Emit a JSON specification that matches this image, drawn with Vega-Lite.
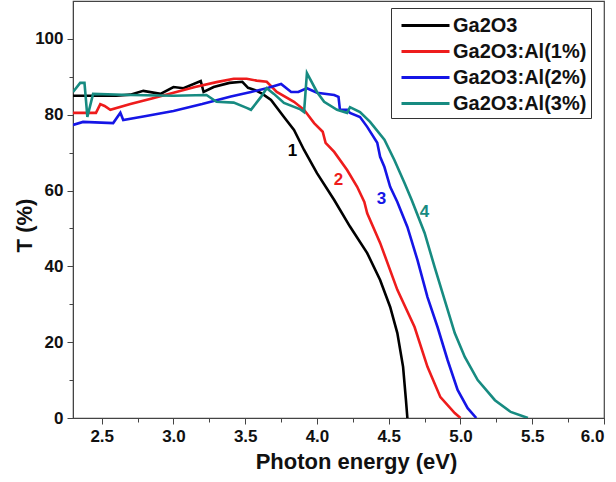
{
  "$schema": "https://vega.github.io/schema/vega-lite/v6.json",
  "width": 531,
  "height": 417,
  "autosize": {"type": "none"},
  "padding": {"left": 73, "top": 1, "right": 12, "bottom": 64},
  "background": "white",
  "config": {
    "view": {"stroke": "#444444", "strokeWidth": 1.2},
    "font": "Liberation Sans",
    "legend": {"strokeWidth": 1},
    "axis": {"grid": false, "domainColor": "#444444", "tickColor": "#444444", "labelFont": "Liberation Sans", "titleFont": "Liberation Sans"}
  },
  "datasets": {
    "curves": [
      {"s": "Ga2O3", "e": 2.30, "t": 85},
      {"s": "Ga2O3", "e": 2.60, "t": 85},
      {"s": "Ga2O3", "e": 2.70, "t": 85.3},
      {"s": "Ga2O3", "e": 2.79, "t": 86.3},
      {"s": "Ga2O3", "e": 2.91, "t": 85.5},
      {"s": "Ga2O3", "e": 3.00, "t": 87.3},
      {"s": "Ga2O3", "e": 3.07, "t": 87},
      {"s": "Ga2O3", "e": 3.19, "t": 88.9},
      {"s": "Ga2O3", "e": 3.21, "t": 86},
      {"s": "Ga2O3", "e": 3.28, "t": 87.3},
      {"s": "Ga2O3", "e": 3.39, "t": 88.4},
      {"s": "Ga2O3", "e": 3.48, "t": 88.7},
      {"s": "Ga2O3", "e": 3.52, "t": 87.1},
      {"s": "Ga2O3", "e": 3.57, "t": 86.5},
      {"s": "Ga2O3", "e": 3.62, "t": 85.5},
      {"s": "Ga2O3", "e": 3.68, "t": 83.9},
      {"s": "Ga2O3", "e": 3.77, "t": 79.4},
      {"s": "Ga2O3", "e": 3.84, "t": 76},
      {"s": "Ga2O3", "e": 3.91, "t": 70.7},
      {"s": "Ga2O3", "e": 4.00, "t": 64.6},
      {"s": "Ga2O3", "e": 4.12, "t": 57.5},
      {"s": "Ga2O3", "e": 4.23, "t": 50.5},
      {"s": "Ga2O3", "e": 4.35, "t": 43.5},
      {"s": "Ga2O3", "e": 4.44, "t": 36.4},
      {"s": "Ga2O3", "e": 4.51, "t": 29.3},
      {"s": "Ga2O3", "e": 4.56, "t": 22.4},
      {"s": "Ga2O3", "e": 4.60, "t": 13.5},
      {"s": "Ga2O3", "e": 4.62, "t": 4.7},
      {"s": "Ga2O3", "e": 4.63, "t": 0},
      {"s": "Ga2O3:Al(1%)", "e": 2.30, "t": 80.5},
      {"s": "Ga2O3:Al(1%)", "e": 2.46, "t": 80.5},
      {"s": "Ga2O3:Al(1%)", "e": 2.49, "t": 82.8},
      {"s": "Ga2O3:Al(1%)", "e": 2.52, "t": 82.3},
      {"s": "Ga2O3:Al(1%)", "e": 2.56, "t": 81.3},
      {"s": "Ga2O3:Al(1%)", "e": 2.70, "t": 82.8},
      {"s": "Ga2O3:Al(1%)", "e": 2.85, "t": 84.3},
      {"s": "Ga2O3:Al(1%)", "e": 3.00, "t": 85.8},
      {"s": "Ga2O3:Al(1%)", "e": 3.15, "t": 87.3},
      {"s": "Ga2O3:Al(1%)", "e": 3.30, "t": 88.6},
      {"s": "Ga2O3:Al(1%)", "e": 3.42, "t": 89.5},
      {"s": "Ga2O3:Al(1%)", "e": 3.51, "t": 89.5},
      {"s": "Ga2O3:Al(1%)", "e": 3.58, "t": 89},
      {"s": "Ga2O3:Al(1%)", "e": 3.65, "t": 88.7},
      {"s": "Ga2O3:Al(1%)", "e": 3.72, "t": 86},
      {"s": "Ga2O3:Al(1%)", "e": 3.84, "t": 83.4},
      {"s": "Ga2O3:Al(1%)", "e": 3.91, "t": 81.3},
      {"s": "Ga2O3:Al(1%)", "e": 3.98, "t": 77.8},
      {"s": "Ga2O3:Al(1%)", "e": 4.04, "t": 75.5},
      {"s": "Ga2O3:Al(1%)", "e": 4.06, "t": 72.6},
      {"s": "Ga2O3:Al(1%)", "e": 4.12, "t": 70.2},
      {"s": "Ga2O3:Al(1%)", "e": 4.21, "t": 65.4},
      {"s": "Ga2O3:Al(1%)", "e": 4.28, "t": 61},
      {"s": "Ga2O3:Al(1%)", "e": 4.33, "t": 57},
      {"s": "Ga2O3:Al(1%)", "e": 4.35, "t": 54},
      {"s": "Ga2O3:Al(1%)", "e": 4.44, "t": 46.2},
      {"s": "Ga2O3:Al(1%)", "e": 4.56, "t": 33.8},
      {"s": "Ga2O3:Al(1%)", "e": 4.68, "t": 24},
      {"s": "Ga2O3:Al(1%)", "e": 4.77, "t": 13.5},
      {"s": "Ga2O3:Al(1%)", "e": 4.86, "t": 5.5},
      {"s": "Ga2O3:Al(1%)", "e": 4.96, "t": 1.3},
      {"s": "Ga2O3:Al(1%)", "e": 5.00, "t": 0},
      {"s": "Ga2O3:Al(2%)", "e": 2.30, "t": 77.3},
      {"s": "Ga2O3:Al(2%)", "e": 2.37, "t": 78.1},
      {"s": "Ga2O3:Al(2%)", "e": 2.58, "t": 77.8},
      {"s": "Ga2O3:Al(2%)", "e": 2.63, "t": 80.5},
      {"s": "Ga2O3:Al(2%)", "e": 2.65, "t": 78.6},
      {"s": "Ga2O3:Al(2%)", "e": 2.80, "t": 79.6},
      {"s": "Ga2O3:Al(2%)", "e": 3.00, "t": 81},
      {"s": "Ga2O3:Al(2%)", "e": 3.20, "t": 82.8},
      {"s": "Ga2O3:Al(2%)", "e": 3.40, "t": 84.8},
      {"s": "Ga2O3:Al(2%)", "e": 3.54, "t": 86},
      {"s": "Ga2O3:Al(2%)", "e": 3.65, "t": 87},
      {"s": "Ga2O3:Al(2%)", "e": 3.75, "t": 88.1},
      {"s": "Ga2O3:Al(2%)", "e": 3.82, "t": 86},
      {"s": "Ga2O3:Al(2%)", "e": 3.87, "t": 86},
      {"s": "Ga2O3:Al(2%)", "e": 3.93, "t": 87},
      {"s": "Ga2O3:Al(2%)", "e": 4.00, "t": 85.8},
      {"s": "Ga2O3:Al(2%)", "e": 4.12, "t": 85.2},
      {"s": "Ga2O3:Al(2%)", "e": 4.15, "t": 84.7},
      {"s": "Ga2O3:Al(2%)", "e": 4.16, "t": 81.3},
      {"s": "Ga2O3:Al(2%)", "e": 4.21, "t": 81.3},
      {"s": "Ga2O3:Al(2%)", "e": 4.23, "t": 80.5},
      {"s": "Ga2O3:Al(2%)", "e": 4.30, "t": 79.4},
      {"s": "Ga2O3:Al(2%)", "e": 4.35, "t": 76.8},
      {"s": "Ga2O3:Al(2%)", "e": 4.42, "t": 72.6},
      {"s": "Ga2O3:Al(2%)", "e": 4.44, "t": 68.9},
      {"s": "Ga2O3:Al(2%)", "e": 4.47, "t": 66.2},
      {"s": "Ga2O3:Al(2%)", "e": 4.51, "t": 61},
      {"s": "Ga2O3:Al(2%)", "e": 4.56, "t": 57},
      {"s": "Ga2O3:Al(2%)", "e": 4.63, "t": 50.4},
      {"s": "Ga2O3:Al(2%)", "e": 4.70, "t": 41.7},
      {"s": "Ga2O3:Al(2%)", "e": 4.77, "t": 31.9},
      {"s": "Ga2O3:Al(2%)", "e": 4.84, "t": 24},
      {"s": "Ga2O3:Al(2%)", "e": 4.91, "t": 15.3},
      {"s": "Ga2O3:Al(2%)", "e": 4.98, "t": 7.4},
      {"s": "Ga2O3:Al(2%)", "e": 5.05, "t": 2.6},
      {"s": "Ga2O3:Al(2%)", "e": 5.11, "t": 0},
      {"s": "Ga2O3:Al(3%)", "e": 2.30, "t": 86},
      {"s": "Ga2O3:Al(3%)", "e": 2.35, "t": 88.4},
      {"s": "Ga2O3:Al(3%)", "e": 2.38, "t": 88.4},
      {"s": "Ga2O3:Al(3%)", "e": 2.39, "t": 84},
      {"s": "Ga2O3:Al(3%)", "e": 2.40, "t": 79.4},
      {"s": "Ga2O3:Al(3%)", "e": 2.44, "t": 85.5},
      {"s": "Ga2O3:Al(3%)", "e": 2.70, "t": 85.2},
      {"s": "Ga2O3:Al(3%)", "e": 3.00, "t": 85},
      {"s": "Ga2O3:Al(3%)", "e": 3.23, "t": 85.2},
      {"s": "Ga2O3:Al(3%)", "e": 3.30, "t": 83.4},
      {"s": "Ga2O3:Al(3%)", "e": 3.42, "t": 83.2},
      {"s": "Ga2O3:Al(3%)", "e": 3.51, "t": 81.8},
      {"s": "Ga2O3:Al(3%)", "e": 3.54, "t": 81.3},
      {"s": "Ga2O3:Al(3%)", "e": 3.61, "t": 84.7},
      {"s": "Ga2O3:Al(3%)", "e": 3.65, "t": 87},
      {"s": "Ga2O3:Al(3%)", "e": 3.70, "t": 85.5},
      {"s": "Ga2O3:Al(3%)", "e": 3.77, "t": 83.1},
      {"s": "Ga2O3:Al(3%)", "e": 3.88, "t": 81.5},
      {"s": "Ga2O3:Al(3%)", "e": 3.91, "t": 80.7},
      {"s": "Ga2O3:Al(3%)", "e": 3.93, "t": 91},
      {"s": "Ga2O3:Al(3%)", "e": 4.00, "t": 86},
      {"s": "Ga2O3:Al(3%)", "e": 4.05, "t": 83.4},
      {"s": "Ga2O3:Al(3%)", "e": 4.14, "t": 81.3},
      {"s": "Ga2O3:Al(3%)", "e": 4.21, "t": 80.5},
      {"s": "Ga2O3:Al(3%)", "e": 4.23, "t": 82},
      {"s": "Ga2O3:Al(3%)", "e": 4.30, "t": 80.7},
      {"s": "Ga2O3:Al(3%)", "e": 4.37, "t": 78.1},
      {"s": "Ga2O3:Al(3%)", "e": 4.47, "t": 73.4},
      {"s": "Ga2O3:Al(3%)", "e": 4.54, "t": 68},
      {"s": "Ga2O3:Al(3%)", "e": 4.61, "t": 62},
      {"s": "Ga2O3:Al(3%)", "e": 4.66, "t": 57.5},
      {"s": "Ga2O3:Al(3%)", "e": 4.75, "t": 48.8},
      {"s": "Ga2O3:Al(3%)", "e": 4.82, "t": 39.8},
      {"s": "Ga2O3:Al(3%)", "e": 4.89, "t": 31.1},
      {"s": "Ga2O3:Al(3%)", "e": 4.96, "t": 22.4},
      {"s": "Ga2O3:Al(3%)", "e": 5.03, "t": 16.1},
      {"s": "Ga2O3:Al(3%)", "e": 5.12, "t": 10},
      {"s": "Ga2O3:Al(3%)", "e": 5.24, "t": 4.7},
      {"s": "Ga2O3:Al(3%)", "e": 5.35, "t": 1.6},
      {"s": "Ga2O3:Al(3%)", "e": 5.47, "t": 0}
    ],
    "labels": [
      {"s": "Ga2O3", "n": "1", "e": 3.83, "t": 70.5},
      {"s": "Ga2O3:Al(1%)", "n": "2", "e": 4.15, "t": 62.8},
      {"s": "Ga2O3:Al(2%)", "n": "3", "e": 4.45, "t": 57.8},
      {"s": "Ga2O3:Al(3%)", "n": "4", "e": 4.75, "t": 54.4}
    ]
  },
  "layer": [
    {
      "data": {"name": "curves"},
      "mark": {"type": "line", "strokeWidth": 2.6, "clip": true},
      "encoding": {
        "x": {
          "field": "e", "type": "quantitative",
          "scale": {"domain": [2.3, 6.0], "nice": false, "zero": false},
          "axis": {
            "orient": "bottom",
            "title": "Photon energy (eV)",
            "values": [2.5, 3.0, 3.5, 4.0, 4.5, 5.0, 5.5, 6.0],
            "format": ".1f",
            "labelFontSize": 17, "labelFontWeight": "bold", "labelColor": "#111111",
            "labelPadding": 4, "tickSize": 6,
            "titleFontSize": 22, "titleFontWeight": "bold", "titleColor": "#111111",
            "titleX": 283, "titleY": 33, "titleBaseline": "top", "titleAnchor": "middle"
          }
        },
        "y": {
          "field": "t", "type": "quantitative",
          "scale": {"domain": [0, 110], "nice": false},
          "axis": {
            "orient": "left",
            "title": "T (%)",
            "values": [0, 20, 40, 60, 80, 100],
            "labelFontSize": 17, "labelFontWeight": "bold", "labelColor": "#111111",
            "labelPadding": 4, "tickSize": 6,
            "titleFontSize": 22, "titleFontWeight": "bold", "titleColor": "#111111",
            "titleX": -49, "titleY": 224, "titleBaseline": "middle", "titleAngle": -90
          }
        },
        "color": {
          "field": "s", "type": "nominal",
          "scale": {
            "domain": ["Ga2O3", "Ga2O3:Al(1%)", "Ga2O3:Al(2%)", "Ga2O3:Al(3%)"],
            "range": ["#000000", "#ee1c1c", "#1515e6", "#178b81"]
          },
          "legend": {
            "title": null,
            "orient": "none",
            "legendX": 318,
            "legendY": 7,
            "symbolType": "M-2,0H2",
            "symbolSize": 576,
            "symbolStrokeWidth": 3,
            "symbolOffset": 17,
            "labelFontSize": 20,
            "labelFontWeight": "bold",
            "labelColor": "#111111",
            "labelFont": "Liberation Sans",
            "labelOffset": 14,
            "rowPadding": 2,
            "padding": 4,
            "strokeColor": "#333333",
            "fillColor": "white"
          }
        }
      }
    },
    {
      "data": {"name": "labels"},
      "mark": {"type": "text", "fontSize": 17, "fontWeight": "bold", "font": "Liberation Sans"},
      "encoding": {
        "x": {
          "field": "e", "type": "quantitative",
          "axis": {"orient": "bottom", "title": null, "labels": false, "domain": false, "tickSize": 4,
                   "values": [2.75, 3.25, 3.75, 4.25, 4.75, 5.25, 5.75]}
        },
        "y": {
          "field": "t", "type": "quantitative",
          "axis": {"orient": "left", "title": null, "labels": false, "domain": false, "tickSize": 4,
                   "values": [10, 30, 50, 70, 90]}
        },
        "text": {"field": "n", "type": "nominal"},
        "color": {"field": "s", "type": "nominal", "legend": null}
      }
    }
  ],
  "resolve": {"axis": {"x": "independent", "y": "independent"}}
}
